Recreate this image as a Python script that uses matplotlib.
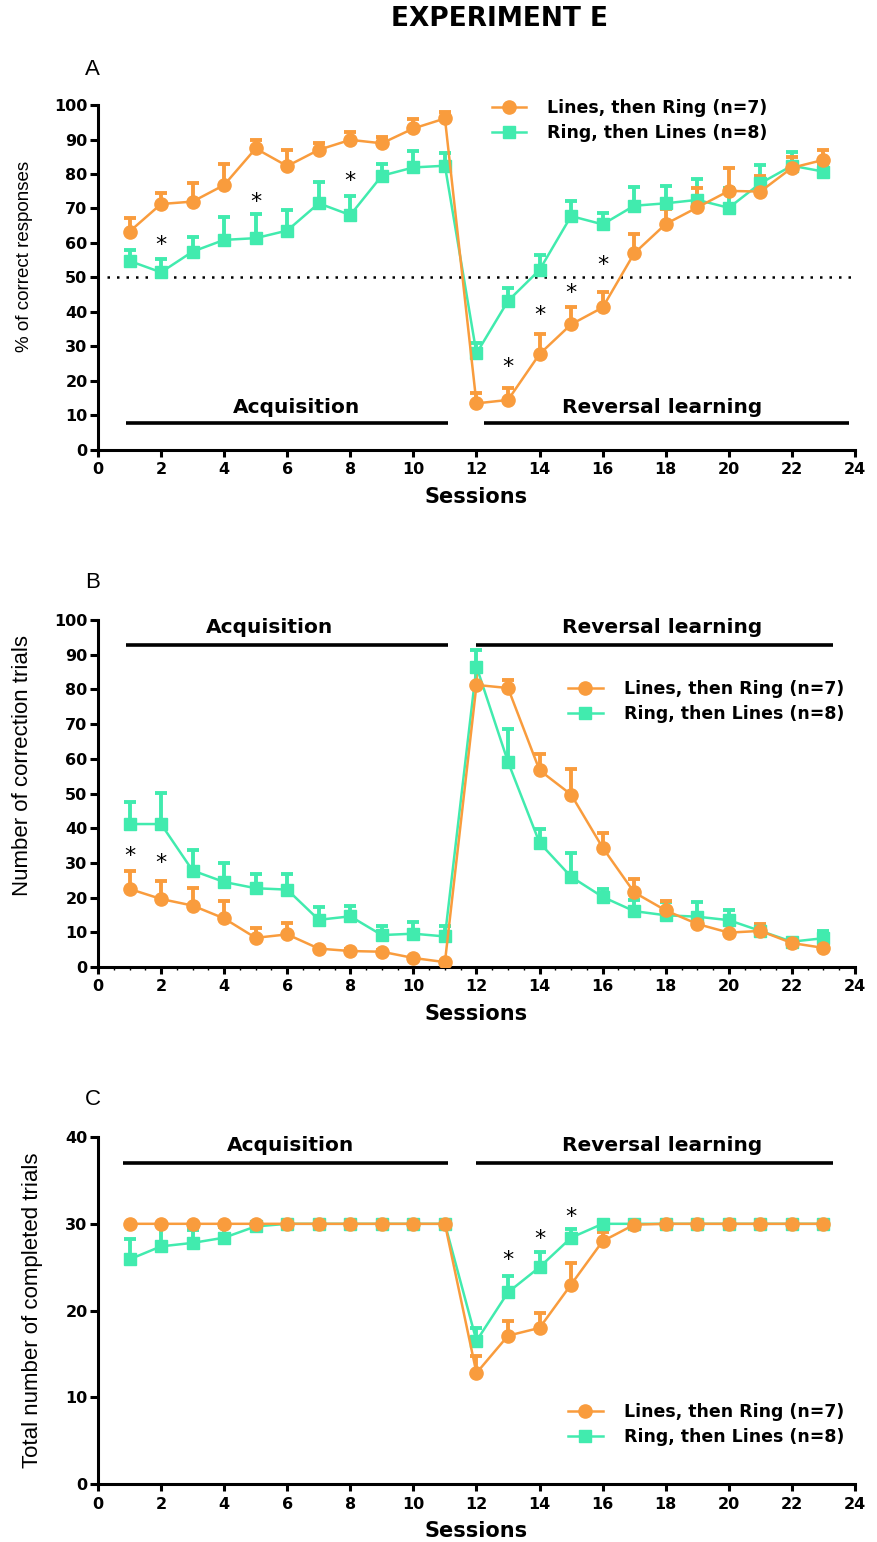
import numpy as np
import matplotlib
matplotlib.use("Agg")
import matplotlib.pyplot as plt
from matplotlib.lines import Line2D
from matplotlib.ticker import MultipleLocator

plt.rcParams["font.family"] = ["DejaVu Sans"]

ORANGE = "#F99C3D"
GREEN = "#41EBAE"

sessions = np.arange(1, 24)
series_labels = ["Lines, then Ring (n=7)", "Ring, then Lines (n=8)"]

# Panel A: % of correct responses (mean, upper SEM)
a_lines = [63.3, 71.3, 72.0, 76.8, 87.4, 82.3, 87.0, 89.9, 88.9, 93.2, 96.1,
           13.5, 14.5, 27.8, 36.4, 41.3, 57.0, 65.5, 70.3, 75.1, 74.9, 81.8, 84.1]
a_lines_err = [3.8, 3.3, 5.3, 6.0, 2.5, 4.8, 1.9, 2.4, 1.9, 2.7, 1.8,
               2.9, 3.4, 5.7, 4.9, 4.6, 5.5, 4.3, 5.5, 6.5, 4.6, 3.0, 2.9]
a_ring = [54.8, 51.5, 57.5, 60.9, 61.4, 63.6, 71.5, 68.1, 79.5, 81.9, 82.4,
          28.0, 43.2, 52.2, 67.8, 65.4, 70.8, 71.5, 72.5, 70.2, 77.3, 82.4, 80.7]
a_ring_err = [3.2, 3.9, 4.1, 6.7, 7.0, 6.0, 6.3, 5.6, 3.3, 4.8, 3.6,
              2.9, 3.7, 4.3, 4.4, 3.2, 5.5, 5.1, 6.1, 5.8, 5.3, 3.9, 2.0]
a_star_x = [2, 5, 8, 13, 14, 15, 16]
a_star_y = [59.5, 72, 78, 24, 39, 45.5, 53.5]

# Panel B: number of correction trials
b_lines = [22.5, 19.6, 17.7, 14.0, 8.4, 9.4, 5.3, 4.6, 4.4, 2.6, 1.4,
           81.3, 80.4, 56.7, 49.7, 34.4, 21.5, 16.3, 12.4, 9.9, 10.4, 6.9, 5.5]
b_lines_err = [5.3, 5.1, 5.1, 5.0, 2.9, 3.3, 0.5, 0.5, 0.5, 0.3, 0.3,
               3.7, 2.2, 4.8, 7.3, 4.3, 3.8, 2.6, 3.1, 2.8, 2.1, 0.6, 0.5]
b_ring = [41.2, 41.2, 27.8, 24.5, 22.7, 22.3, 13.6, 14.6, 9.2, 9.6, 8.8,
          86.6, 59.1, 35.8, 26.0, 20.2, 16.1, 14.9, 14.5, 13.5, 10.4, 7.3, 8.3]
b_ring_err = [6.4, 8.9, 6.0, 5.4, 4.2, 4.4, 3.7, 3.1, 2.6, 3.5, 2.9,
              4.8, 9.4, 4.1, 6.9, 2.4, 3.2, 3.9, 4.3, 2.9, 1.5, 0.6, 2.1]
b_star_x = [1, 2]
b_star_y = [32.0, 30.0]

# Panel C: total number of completed trials
c_lines = [30, 30, 30, 30, 30, 30, 30, 30, 30, 30, 30,
           12.8, 17.1, 18.0, 23.0, 28.0, 29.9, 30, 30, 30, 30, 30, 30]
c_lines_err = [0, 0, 0, 0, 0, 0, 0, 0, 0, 0, 0,
               2.0, 1.7, 1.7, 2.5, 1.0, 0, 0, 0, 0, 0, 0, 0]
c_ring = [25.9, 27.4, 27.8, 28.4, 29.7, 30, 30, 30, 30, 30, 30,
          16.5, 22.1, 25.0, 28.4, 30, 30, 30, 30, 30, 30, 30, 30]
c_ring_err = [2.4, 2.3, 1.5, 1.2, 0.3, 0, 0, 0, 0, 0, 0,
              1.5, 1.9, 1.8, 1.0, 0, 0, 0, 0, 0, 0, 0, 0]
c_star_x = [13, 14, 15]
c_star_y = [25.8, 28.2, 30.8]


def draw_series(ax, mean, err, color, marker, ms):
    mean = np.array(mean)
    err = np.array(err)
    ax.errorbar(sessions, mean, yerr=[np.zeros_like(err), err], fmt="none",
                ecolor=color, elinewidth=2.8, capsize=4.6, capthick=2.8, zorder=2)
    ax.plot(sessions, mean, color=color, lw=1.8, marker=marker, markersize=ms,
            markeredgecolor=color, zorder=3)


def style_axes(ax, ymax, ylabel, label_x, label_y, label_size, minor_x=False):
    ax.set_xlim(0, 24)
    ax.set_ylim(0, ymax)
    for side in ["top", "right"]:
        ax.spines[side].set_visible(False)
    for side in ["left", "bottom"]:
        ax.spines[side].set_linewidth(2.2)
    ax.xaxis.set_major_locator(MultipleLocator(2))
    ax.yaxis.set_major_locator(MultipleLocator(10))
    ax.tick_params(axis="x", which="major", direction="out", length=5,
                   width=2.2, labelsize=11.5, pad=4)
    ax.tick_params(axis="y", which="major", direction="out", length=6,
                   width=2.2, labelsize=11.5, pad=1.5)
    if minor_x:
        ax.xaxis.set_minor_locator(MultipleLocator(0.5))
        ax.tick_params(axis="x", which="minor", direction="out", length=2, width=1.0)
    for lab in ax.get_xticklabels() + ax.get_yticklabels():
        lab.set_fontweight("bold")
    ax.set_xlabel("Sessions", fontsize=15, fontweight="bold", labelpad=7)
    ax.set_ylabel(ylabel, fontsize=label_size, family=["Liberation Sans", "DejaVu Sans"])
    ax.yaxis.set_label_coords(label_x, label_y)


def phase_bars(ax, y_bar, y_text, acq_span, rev_span, acq_center):
    ax.plot(acq_span, [y_bar, y_bar], color="black", lw=2.6, solid_capstyle="butt")
    ax.plot(rev_span, [y_bar, y_bar], color="black", lw=2.6, solid_capstyle="butt")
    ax.text(acq_center, y_text, "Acquisition", ha="center", va="bottom",
            fontsize=14.5, fontweight="bold")
    ax.text(17.9, y_text, "Reversal learning", ha="center", va="bottom",
            fontsize=14.5, fontweight="bold")


def stars(ax, xs, ys):
    for x, y in zip(xs, ys):
        ax.text(x, y, "*", ha="center", va="center", fontsize=16)


fig = plt.figure(figsize=(8.77, 15.42), dpi=100)

axA = fig.add_axes([0.1117, 0.7082, 0.8632, 0.2237])
axB = fig.add_axes([0.1117, 0.3729, 0.8632, 0.2250])
axC = fig.add_axes([0.1117, 0.0376, 0.8632, 0.2250])

# Panel A
draw_series(axA, a_ring, a_ring_err, GREEN, "s", 9)
draw_series(axA, a_lines, a_lines_err, ORANGE, "o", 9.5)
axA.axhline(50, xmin=0.012, xmax=1, color="black", lw=1.8, ls=(0, (1, 2.8)), zorder=1)
phase_bars(axA, 7.8, 9.6, [0.9, 11.1], [12.25, 23.8], 6.3)
stars(axA, a_star_x, a_star_y)
style_axes(axA, 100, "% of correct responses", -0.086, 0.562, 13.5)

# Panel B
draw_series(axB, b_ring, b_ring_err, GREEN, "s", 9)
draw_series(axB, b_lines, b_lines_err, ORANGE, "o", 9.5)
phase_bars(axB, 92.8, 95.0, [0.9, 11.1], [12.0, 23.3], 5.45)
stars(axB, b_star_x, b_star_y)
style_axes(axB, 100, "Number of correction trials", -0.086, 0.58, 16, minor_x=True)

# Panel C
draw_series(axC, c_ring, c_ring_err, GREEN, "s", 9)
draw_series(axC, c_lines, c_lines_err, ORANGE, "o", 9.5)
phase_bars(axC, 37.0, 37.9, [0.8, 11.1], [12.0, 23.3], 6.1)
stars(axC, c_star_x, c_star_y)
style_axes(axC, 40, "Total number of completed trials", -0.073, 0.5, 16)

legend_handles = [
    Line2D([], [], color=ORANGE, lw=1.8, marker="o", markersize=9.5),
    Line2D([], [], color=GREEN, lw=1.8, marker="s", markersize=9),
]
legend_pos = {axA: (0.520, 1.018), axB: (0.621, 0.827), axC: (0.621, 0.233)}
for ax, anchor in legend_pos.items():
    ax.legend(legend_handles, series_labels, loc="upper left", bbox_to_anchor=anchor,
              frameon=False, handlelength=2.0, handletextpad=1.2, labelspacing=0.4,
              borderpad=0, borderaxespad=0, prop={"weight": "bold", "size": 12.5})

fig.text(0.570, 0.988, "EXPERIMENT E", ha="center", va="center",
         fontsize=19, fontweight="bold")
for y, letter in [(0.955, "A"), (0.622, "B"), (0.287, "C")]:
    fig.text(0.097, y, letter, ha="left", va="center", fontsize=16,
             family=["Liberation Sans", "DejaVu Sans"])

fig.savefig("out.png", dpi=100)
